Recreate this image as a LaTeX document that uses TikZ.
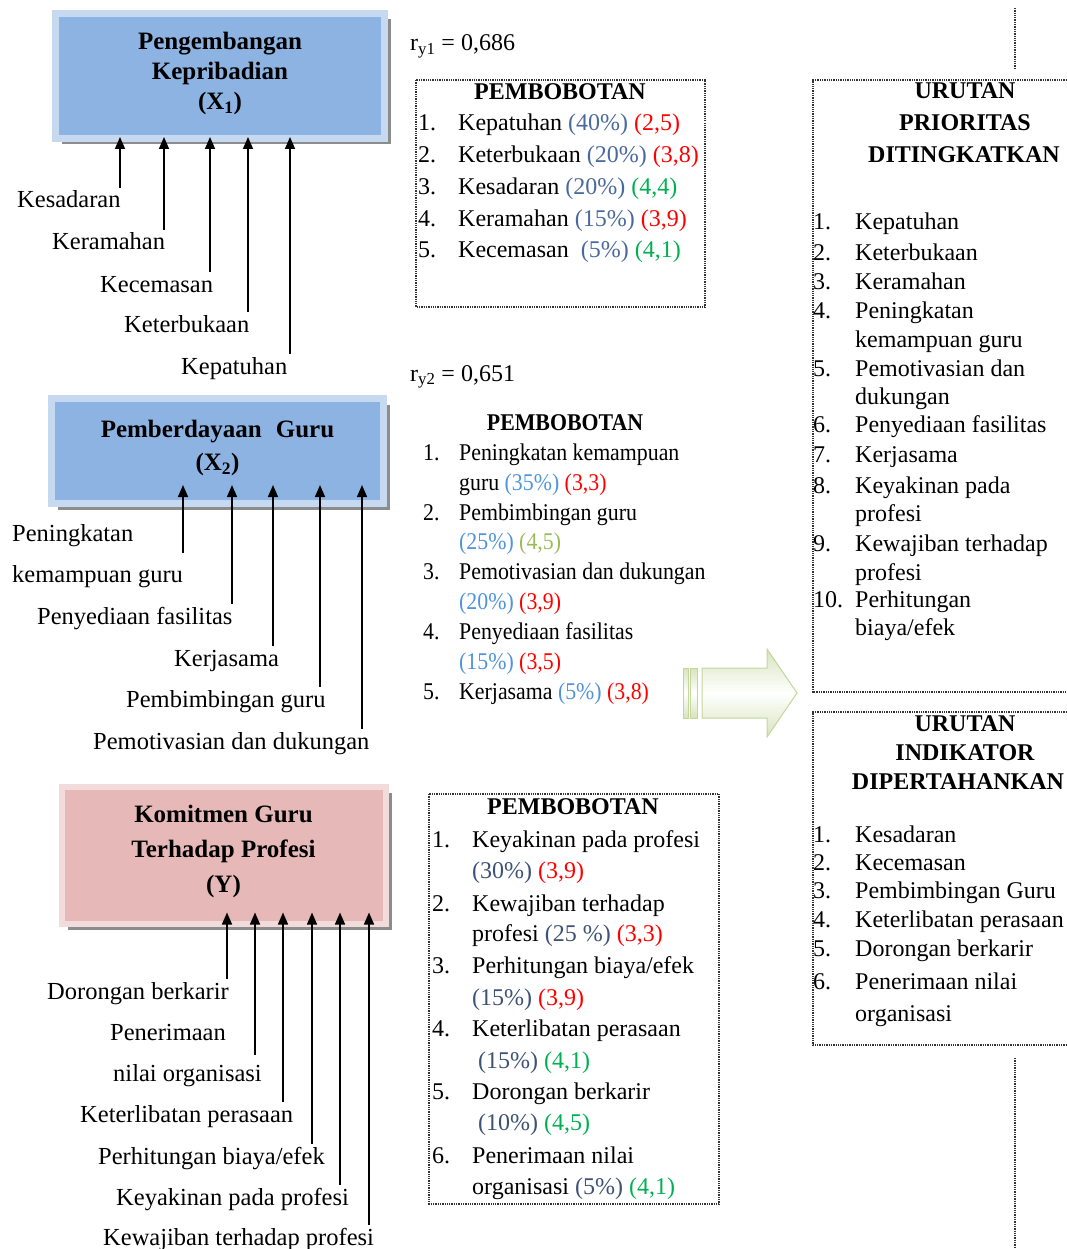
\documentclass[tikz,border=0pt]{standalone}
\usepackage{fontspec}
\setmainfont{Liberation Serif}
\newfontfamily\condfont[FakeStretch=0.91]{Liberation Serif}
\usetikzlibrary{arrows.meta,shadows}

\definecolor{xbiru}{HTML}{8DB3E2}
\definecolor{xbirutepi}{HTML}{C6D9F1}
\definecolor{ymerah}{HTML}{E6B9B8}
\definecolor{ymerahtepi}{HTML}{F2DCDB}
\definecolor{pctA}{HTML}{4A6A9E}
\definecolor{pctB}{HTML}{4F94DC}
\definecolor{pctC}{HTML}{3E5275}
\definecolor{nred}{HTML}{FF0000}
\definecolor{ngreen}{HTML}{00B050}
\definecolor{nlime}{HTML}{9BBB59}
\definecolor{panah}{HTML}{C3D69B}
\definecolor{panahisi}{HTML}{D7E4BD}

\newcommand{\pA}[1]{\textcolor{pctA}{#1}}
\newcommand{\pB}[1]{\textcolor{pctB}{#1}}
\newcommand{\pC}[1]{\textcolor{pctC}{#1}}
\newcommand{\nR}[1]{\textcolor{nred}{#1}}
\newcommand{\nG}[1]{\textcolor{ngreen}{#1}}
\newcommand{\nL}[1]{\textcolor{nlime}{#1}}

\tikzset{
  txt/.style={inner sep=0pt, text height=20pt, text depth=2pt, font=\fontsize{24}{29}\selectfont},
  lbl/.style={txt, font=\fontsize{24.5}{29}\selectfont},
  ttl/.style={txt, font=\fontsize{24}{29}\selectfont\bfseries},
  varbox/.style 2 args={draw=#1, fill=#2, line width=7pt, inner sep=0pt, align=center,
    drop shadow={shadow xshift=6pt, shadow yshift=-6pt, fill=black!45, opacity=1}},
  arr/.style={-{Triangle[width=10pt,length=12pt]}, line width=1.6pt},
  dotbox/.style={densely dotted, line width=1.3pt, draw=black!80},
}

\begin{document}
\begin{tikzpicture}[x=1pt, y=-1pt]
\useasboundingbox (0,0) rectangle (1067,1249);

% variabel
\node[varbox={xbirutepi}{xbiru}, minimum width=329pt, minimum height=125pt,
  font=\fontsize{25}{30}\selectfont\bfseries] (x1) at (220,76)
  {Pengembangan\\Kepribadian\\(X\textsubscript{1})\\[-20pt]};
\node[varbox={xbirutepi}{xbiru}, minimum width=332pt, minimum height=105pt,
  font=\fontsize{25}{33}\selectfont\bfseries] (x2) at (217.5,451)
  {Pemberdayaan\hspace{14pt}Guru\\(X\textsubscript{2})\\[-22pt]};
\node[varbox={ymerahtepi}{ymerah}, minimum width=324pt, minimum height=137pt, line width=6pt,
  font=\fontsize{25}{35}\selectfont\bfseries] (y) at (223.5,855)
  {Komitmen Guru\\Terhadap Profesi\\(Y)\\[-22pt]};

\coordinate (tipA) at ([yshift=5pt]x1.south);
\coordinate (tipB) at ([yshift=22pt]x2.south);
\coordinate (tipC) at ([yshift=14pt]y.south);

% indikator X1
\node[lbl, anchor=west] (kes) at (17,199) {Kesadaran};
\node[lbl, anchor=west] (ker) at (52,241) {Keramahan};
\node[lbl, anchor=west] (kec) at (100,283) {Kecemasan};
\node[lbl, anchor=west] (ktb) at (124,323) {Keterbukaan};
\node[lbl, anchor=west] (kep) at (181,365) {Kepatuhan};
\foreach \n/\x in {kes/120, ker/164, kec/210, ktb/248, kep/290}
  \draw[arr] (\n.north -| \x,0) -- (tipA -| \x,0);

% indikator X2
\node[lbl, anchor=west] (pk1) at (12,532) {Peningkatan};
\node[lbl, anchor=west] (pk2) at (12,573) {kemampuan guru};
\coordinate (pkc) at (183,553);
\node[lbl, anchor=west] (pf) at (37,615) {Penyediaan fasilitas};
\node[lbl, anchor=west] (kj) at (174,657) {Kerjasama};
\node[lbl, anchor=west] (pg) at (126,698) {Pembimbingan guru};
\node[lbl, anchor=west] (pd) at (93,740) {Pemotivasian dan dukungan};
\draw[arr] (pkc) -- (tipB -| pkc);
\foreach \n/\x in {pf/232, kj/273, pg/320, pd/362}
  \draw[arr] (\n.north -| \x,0) -- (tipB -| \x,0);

% indikator Y
\node[lbl, anchor=west] (db) at (47,990) {Dorongan berkarir};
\node[lbl, anchor=west] (pn1) at (110,1031) {Penerimaan};
\node[lbl, anchor=west] (pn2) at (113,1072) {nilai organisasi};
\coordinate (pnc) at (255,1055);
\node[lbl, anchor=west] (kp) at (80,1113) {Keterlibatan perasaan};
\node[lbl, anchor=west] (ph) at (98,1155) {Perhitungan biaya/efek};
\node[lbl, anchor=west] (ky) at (116,1196) {Keyakinan pada profesi};
\node[lbl, anchor=west] (kw) at (103,1236) {Kewajiban terhadap profesi};
\draw[arr] (pnc) -- (tipC -| pnc);
\foreach \n/\x in {db/227, kp/283, ph/312, ky/340, kw/369}
  \draw[arr] (\n.north -| \x,0) -- (tipC -| \x,0);

% pembobotan X1
\node[txt, anchor=west] (ry1) at (410,42) {r\textsubscript{y1} = 0,686};
\draw[dotbox] (416,80) rectangle (705,307);
\node[ttl] (pbA) at (560,91) {PEMBOBOTAN};
\foreach \y/\n/\t in {122/1./{Kepatuhan \pA{(40\%)} \nR{(2,5)}},
    154/2./{Keterbukaan \pA{(20\%)} \nR{(3,8)}},
    186/3./{Kesadaran \pA{(20\%)} \nG{(4,4)}},
    218/4./{Keramahan \pA{(15\%)} \nR{(3,9)}},
    249/5./{Kecemasan~ \pA{(5\%)} \nG{(4,1)}}}
  \node[txt, anchor=west] (pbA\y) at (418,\y) {\makebox[40pt][l]{\n}\t};

% pembobotan X2
\node[txt, anchor=west] (ry2) at (410,372) {r\textsubscript{y2} = 0,651};
\node[ttl, font=\fontsize{24}{29}\selectfont\condfont\bfseries] (pbB) at (565,421) {PEMBOBOTAN};
\foreach \y/\n/\t in {451/1./{Peningkatan kemampuan},
    481/{}/{guru \pB{(35\%)} \nR{(3,3)}},
    511/2./{Pembimbingan guru},
    540/{}/{\pB{(25\%)} \nL{(4,5)}},
    570/3./{Pemotivasian dan dukungan},
    600/{}/{\pB{(20\%)} \nR{(3,9)}},
    630/4./{Penyediaan fasilitas},
    660/{}/{\pB{(15\%)} \nR{(3,5)}},
    690/5./{Kerjasama \pB{(5\%)} \nR{(3,8)}}}
  \node[txt, anchor=west, font=\fontsize{24}{29}\selectfont\condfont] (pbB\y) at (423,\y) {\makebox[36pt][l]{\n}\t};

% pembobotan Y
\draw[dotbox] (429,794) rectangle (719,1204);
\node[ttl] (pbC) at (573,805) {PEMBOBOTAN};
\foreach \y/\n/\t in {838/1./{Keyakinan pada profesi},
    869/{}/{\pC{(30\%)} \nR{(3,9)}},
    902/2./{Kewajiban terhadap},
    932/{}/{profesi \pC{(25 \%)} \nR{(3,3)}},
    964/3./{Perhitungan biaya/efek},
    996/{}/{\pC{(15\%)} \nR{(3,9)}},
    1027/4./{Keterlibatan perasaan},
    1059/{}/{\hspace*{6pt}\pC{(15\%)} \nG{(4,1)}},
    1090/5./{Dorongan berkarir},
    1121/{}/{\hspace*{6pt}\pC{(10\%)} \nG{(4,5)}},
    1154/6./{Penerimaan nilai},
    1185/{}/{organisasi \pC{(5\%)} \nG{(4,1)}}}
  \node[txt, anchor=west] (pbC\y) at (432,\y) {\makebox[40pt][l]{\n}\t};

% panah
\draw[panah, line width=1pt, top color=panahisi, bottom color=panahisi, middle color=white]
  (702,668) -- (767,668) -- (767,649) -- (797,693) -- (767,737) -- (767,718) -- (702,718) -- cycle;
\draw[panah, line width=1pt, top color=panahisi, bottom color=panahisi, middle color=white]
  (683,668) rectangle (688,718);
\draw[panah, line width=1pt, top color=panahisi, bottom color=panahisi, middle color=white]
  (690,668) rectangle (697,718);

% urutan prioritas
\draw[dotbox] (1015,8) -- (1015,70);
\draw[dotbox] (1067,80) -- (813,80) -- (813,692) -- (1067,692);
\node[ttl] (upA1) at (965,90) {URUTAN};
\node[ttl] (upA2) at (965,122) {PRIORITAS};
\node[ttl] (upA3) at (964,154) {DITINGKATKAN};
\foreach \y/\n/\t in {221/1./{Kepatuhan}, 251/2./{Keterbukaan}, 280/3./{Keramahan},
    309/4./{Peningkatan}, 338/{}/{kemampuan guru},
    367/5./{Pemotivasian dan}, 395/{}/{dukungan},
    423/6./{Penyediaan fasilitas}, 453/7./{Kerjasama},
    484/8./{Keyakinan pada}, 512/{}/{profesi},
    542/9./{Kewajiban terhadap}, 571/{}/{profesi},
    598/10./{Perhitungan}, 626/{}/{biaya/efek}}
  \node[txt, anchor=west] (upA\y) at (813,\y) {\makebox[42pt][l]{\n}\t};

% urutan dipertahankan
\draw[dotbox] (1067,712) -- (813,712) -- (813,1045) -- (1067,1045);
\draw[dotbox] (1015,1058) -- (1015,1249);
\node[ttl] (upB1) at (965,722) {URUTAN};
\node[ttl] (upB2) at (965,751) {INDIKATOR};
\node[ttl] (upB3) at (958,780) {DIPERTAHANKAN};
\foreach \y/\n/\t in {833/1./{Kesadaran}, 861/2./{Kecemasan}, 889/3./{Pembimbingan Guru},
    918/4./{Keterlibatan perasaan}, 947/5./{Dorongan berkarir},
    980/6./{Penerimaan nilai}, 1012/{}/{organisasi}}
  \node[txt, anchor=west] (upB\y) at (813,\y) {\makebox[42pt][l]{\n}\t};
\end{tikzpicture}
\end{document}
